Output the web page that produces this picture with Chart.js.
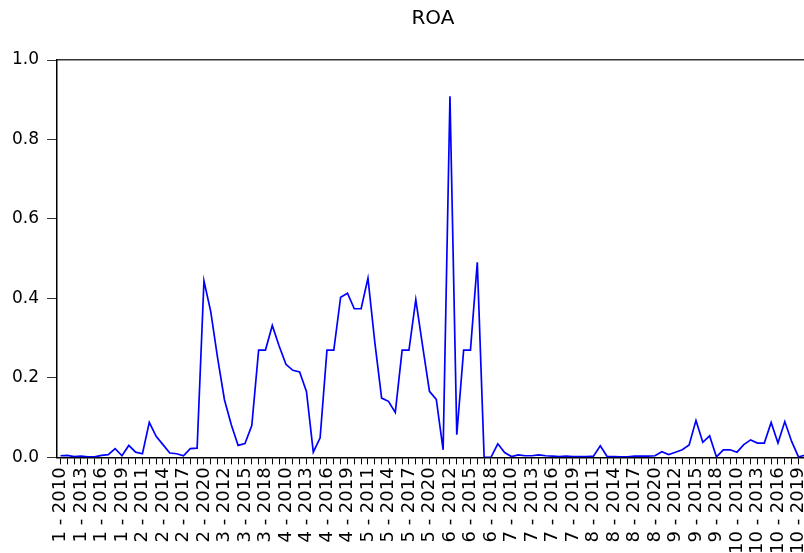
<!DOCTYPE html>
<html>
<head>
<meta charset="utf-8">
<script src="https://cdn.jsdelivr.net/npm/chart.js@4/dist/chart.umd.min.js"></script>
<style>
  html, body { margin: 0; padding: 0; background: #fff; overflow: hidden; }
  #wrap { width: 804px; height: 553px; overflow: hidden; }
</style>
</head>
<body>
<div id="wrap"><canvas id="roachart" width="830" height="557"></canvas></div>
<script>
// panel: firm - year
var firms = [1, 2, 3, 4, 5, 6, 7, 8, 9, 10];
var years = [2010, 2011, 2012, 2013, 2014, 2015, 2016, 2017, 2018, 2019, 2020];

var roa = [
  0.004, 0.005, 0.002, 0.003, 0.001, 0.001, 0.005, 0.007, 0.022, 0.004, 0.030,
  0.013, 0.009, 0.088, 0.053, 0.032, 0.011, 0.009, 0.004, 0.022, 0.023, 0.444,
  0.366, 0.250, 0.145, 0.082, 0.030, 0.035, 0.080, 0.270, 0.270, 0.332, 0.280,
  0.234, 0.219, 0.215, 0.166, 0.013, 0.049, 0.270, 0.270, 0.403, 0.413, 0.374,
  0.374, 0.451, 0.290, 0.149, 0.141, 0.113, 0.270, 0.270, 0.397, 0.280, 0.166,
  0.146, 0.019, 0.909, 0.057, 0.270, 0.270, 0.491, 0.000, 0.000, 0.034, 0.012,
  0.002, 0.006, 0.004, 0.004, 0.006, 0.004, 0.003, 0.002, 0.003, 0.002, 0.002,
  0.002, 0.003, 0.029, 0.002, 0.002, 0.001, 0.001, 0.003, 0.003, 0.003, 0.004,
  0.014, 0.007, 0.013, 0.019, 0.031, 0.093, 0.038, 0.054, 0.001, 0.019, 0.019,
  0.013, 0.032, 0.044, 0.036, 0.036, 0.088, 0.036, 0.090, 0.040, 0.001, 0.006
];

var labels = [];
firms.forEach(f => {
  years.forEach(y => {
    labels.push(f + " - " + y);
  });
});

const roachartelement = document.getElementById('roachart');

roachart = new Chart(roachartelement, {
  type: 'line',
  data: {
    labels: labels,
    datasets: [
      {
        label: 'ROA',
        data: roa,
        borderColor: "#0000ff",
        backgroundColor: "#0000ff",
        borderWidth: 1.7,
        pointRadius: 0,
        tension: 0,
      }
    ]
  },
  options: {
    responsive: false,
    animation: false,
    layout: {
      padding: { left: 4, right: 0, top: 0, bottom: 0 }
    },
    plugins: {
      legend: {
        display: false,
      },
      tooltip: {
        enabled: false,
      },
      title: {
        display: true,
        text: 'ROA',
        fullSize: false,
        color: '#000',
        font: { family: 'DejaVu Sans', size: 20, weight: 'normal' },
        padding: { top: 7, bottom: 29 }
      }
    },
    scales: {
      x: {
        type: 'category',
        offset: true,
        grid: {
          display: true,
          drawOnChartArea: false,
          drawTicks: true,
          tickLength: 7,
          color: '#000',
          lineWidth: 1,
        },
        border: { display: true, color: '#000', width: 1.5 },
        ticks: {
          autoSkip: false,
          maxRotation: 90,
          minRotation: 90,
          padding: 3,
          color: '#000',
          font: { family: 'DejaVu Sans', size: 18 },
          callback: function(value, index) {
            return index % 3 === 0 ? this.getLabelForValue(value) : '';
          }
        }
      },
      x2: {
        type: 'category',
        position: 'top',
        offset: true,
        grid: { display: false, drawTicks: false },
        border: { display: true, color: '#333', width: 1.5 },
        ticks: { display: false }
      },
      y: {
        min: 0,
        max: 1,
        grid: {
          display: true,
          drawOnChartArea: false,
          drawTicks: true,
          tickLength: 10,
          color: '#333',
        },
        border: { display: true, color: '#000', width: 1.5 },
        ticks: {
          stepSize: 0.2,
          padding: 8,
          color: '#000',
          font: { family: 'DejaVu Sans', size: 17 },
          callback: function(value) {
            return value.toFixed(1);
          }
        }
      }
    }
  },
});
</script>
</body>
</html>
